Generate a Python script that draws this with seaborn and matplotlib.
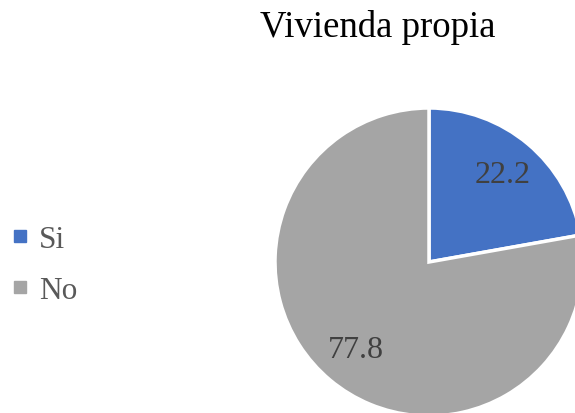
import matplotlib
matplotlib.use("Agg")
import matplotlib.pyplot as plt
from matplotlib.lines import Line2D
import seaborn as sns

labels = ["Si", "No"]
values = [22.2, 77.8]
colors = ["#4472C4", "#A5A5A5"]
title = "Vivienda propia"

sns.set_theme(style="white")
plt.rcParams["font.family"] = ["Liberation Serif", "DejaVu Serif"]

fig = plt.figure(figsize=(5.75, 4.14), dpi=100)
# pie centred near (429, 263) px, radius ~154 px
ax = fig.add_axes([275 / 575, -3 / 414, 308 / 575, 308 / 414])
wedges, texts, autotexts = ax.pie(
    values, colors=colors, startangle=90, counterclock=False,
    autopct="%.1f", pctdistance=0.74,
    wedgeprops=dict(edgecolor="white", linewidth=2.5),
    textprops=dict(fontsize=23, color="#404040"),
)
ax.set_xlim(-1, 1)
ax.set_ylim(-1, 1)
ax.set_aspect("equal")
for w in wedges:
    w.set_clip_on(False)

fig.text(378 / 575, 1 - 37 / 414, title, ha="center", va="baseline",
         fontsize=26.5, color="black")

handles = [Line2D([0], [0], marker="s", linestyle="none", markersize=9,
                  markerfacecolor=c, markeredgecolor=c) for c in colors]
fig.legend(handles, labels, loc="center left",
           bbox_to_anchor=(4 / 575, 1 - 266 / 414), frameon=False,
           fontsize=22.5, labelcolor="#595959", handletextpad=0.12,
           labelspacing=0.72, handlelength=1.0, borderaxespad=0,
           borderpad=0)

fig.savefig("out.png", dpi=100, facecolor="w")
